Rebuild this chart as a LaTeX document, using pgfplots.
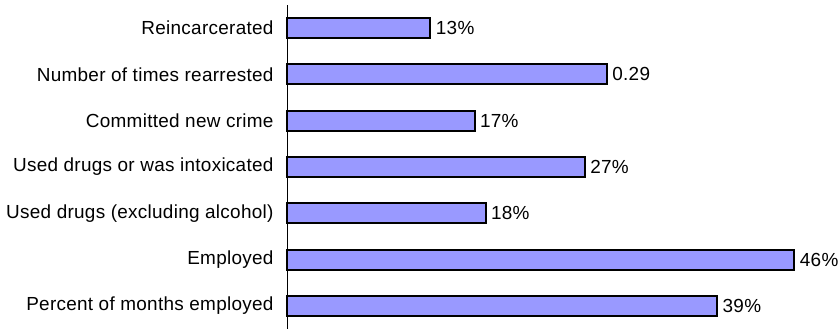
\documentclass[border=0pt]{standalone}
\usepackage{pgfplots}
\pgfplotsset{compat=1.18}
\usepackage{pgfplotstable}
\usepackage{fontspec}
\setmainfont{Liberation Sans}[LetterSpace=1.5]
\definecolor{barfill}{HTML}{9999FF}
\pgfplotstableread[col sep=comma]{
x,y,lab
13,1,13\%
29,2,0.29
17,3,17\%
27,4,27\%
18,5,18\%
46,6,46\%
39,7,39\%
}\datatable
\begin{document}
\begin{tikzpicture}[x=1bp,y=1bp]
\begin{axis}[
  at={(287bp,2bp)}, anchor=south west,
  scale only axis,
  width=551.5bp, height=324bp,
  xmin=0, xmax=50,
  ymin=0.5, ymax=7.5,
  y dir=reverse,
  xbar,
  bar width=20bp,
  axis lines*=left,
  x axis line style={draw=none},
  y axis line style={line width=1bp, black},
  xtick=\empty,
  ytick={1,2,3,4,5,6,7},
  yticklabels={Reincarcerated,Number of times rearrested,Committed new crime,Used drugs or was intoxicated,Used drugs (excluding alcohol),Employed,Percent of months employed},
  major tick length=0pt,
  yticklabel style={font=\fontsize{19}{23}\selectfont, xshift=-10bp, text=black},
  nodes near coords,
  point meta=explicit symbolic,
  nodes near coords style={font=\fontsize{19}{23}\selectfont, anchor=west, inner sep=4.5bp, text=black},
  clip=false,
]
\addplot[fill=barfill, draw=black, line width=2bp] table[x=x, y=y, meta=lab] {\datatable};
\end{axis}
\pgfresetboundingbox
\path (0,0) rectangle (839bp,331bp);
\end{tikzpicture}
\end{document}
